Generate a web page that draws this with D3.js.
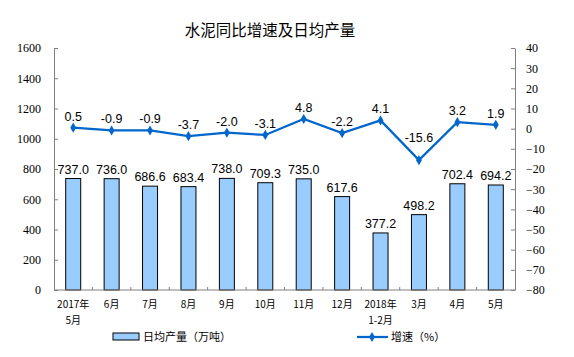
<!DOCTYPE html>
<html><head><meta charset="utf-8">
<script src="https://cdn.jsdelivr.net/npm/d3@7"></script>
<style>body{margin:0;background:#fff}svg{display:block}</style>
</head><body><svg id="c" width="574" height="357"></svg>
<script>
const categories = [["2017年","5月"],["6月"],["7月"],["8月"],["9月"],["10月"],["11月"],["12月"],["2018年","1-2月"],["3月"],["4月"],["5月"]];
const output = [737.0, 736.0, 686.6, 683.4, 738.0, 709.3, 735.0, 617.6, 377.2, 498.2, 702.4, 694.2];
const growth = [0.5, -0.9, -0.9, -3.7, -2.0, -3.1, 4.8, -2.2, 4.1, -15.6, 3.2, 1.9];
const leftTicks = [0,200,400,600,800,1000,1200,1400,1600];
const rightTicks = [40,30,20,10,0,-10,-20,-30,-40,-50,-60,-70,-80];
const title = "水泥同比增速及日均产量";
const legendBar = "日均产量（万吨）";
const legendLine = "增速（%）";

const svg = d3.select("#c");
const L = 54, R = 515, T = 48, B = 290;
const idx = d3.range(categories.length);
const x = d3.scaleBand().domain(idx).range([L, R]).paddingInner(0).paddingOuter(0);
const yL = d3.scaleLinear().domain([0,1600]).range([B, T]);
const yR = d3.scaleLinear().domain([-80,40]).range([B, T]);
const axisColor = "#808080";
const serif = "'Liberation Serif','Times New Roman',serif";
const sans = "'Liberation Sans',Arial,sans-serif";
const cjk = "'Noto Sans CJK SC',sans-serif";

svg.append("text").attr("x", 270).attr("y", 36).attr("text-anchor","middle")
  .attr("font-family", cjk).attr("font-size", 15.5).attr("fill","#000").text(title);

// left axis
const gl = svg.append("g").attr("transform",`translate(${L},0)`)
  .call(d3.axisLeft(yL).tickValues(leftTicks).tickFormat(d3.format("d")).tickSizeInner(-4).tickSizeOuter(0).tickPadding(13));
gl.selectAll("path,line").attr("stroke", axisColor);
gl.selectAll("text").attr("font-family", serif).attr("font-size", 12).attr("fill","#000");

// right axis
const gr = svg.append("g").attr("transform",`translate(${R},0)`)
  .call(d3.axisRight(yR).tickValues(rightTicks).tickFormat(d3.format("d")).tickSizeInner(-4).tickSizeOuter(0).tickPadding(11));
gr.selectAll("path,line").attr("stroke", axisColor);
gr.selectAll("text").attr("font-family", serif).attr("font-size", 12).attr("fill","#000");

// bars
svg.append("g").selectAll("rect").data(output).join("rect")
  .attr("x", (d,i)=> x(i) + x.bandwidth()/2 - 7.5)
  .attr("width", 15)
  .attr("y", d=> yL(d))
  .attr("height", d=> B - yL(d))
  .attr("fill","#99CCFF").attr("stroke","#000").attr("stroke-width",1);

svg.append("g").selectAll("text").data(output).join("text")
  .attr("x", (d,i)=> x(i) + x.bandwidth()/2)
  .attr("y", d=> yL(d) - 5)
  .attr("text-anchor","middle").attr("font-family", sans).attr("font-size", 12.5).attr("fill","#000")
  .text(d=> d.toFixed(1));

// x axis
const gx = svg.append("g").attr("transform",`translate(0,${B})`);
gx.append("line").attr("x1",L).attr("x2",R).attr("y1",0).attr("y2",0).attr("stroke",axisColor);
gx.selectAll("line.t").data(d3.range(1,categories.length)).join("line").attr("class","t")
  .attr("x1", i=> x(i)).attr("x2", i=> x(i)).attr("y1",0).attr("y2",-3).attr("stroke",axisColor);
categories.forEach((c,i)=>{
  c.forEach((s,j)=>{
    gx.append("text").attr("x", x(i)+x.bandwidth()/2).attr("y", 18 + j*16)
      .attr("text-anchor","middle").attr("font-family", cjk).attr("font-size", 10).attr("fill","#000").text(s);
  });
});

// line
const lineColor = "#0066CC";
const line = d3.line().x((d,i)=> x(i)+x.bandwidth()/2).y(d=> yR(d));
svg.append("path").datum(growth).attr("d", line).attr("fill","none").attr("stroke",lineColor).attr("stroke-width",2.25);
const diamond = d3.symbol().type(d3.symbolDiamond).size(30);
svg.append("g").selectAll("path").data(growth).join("path")
  .attr("transform",(d,i)=>`translate(${x(i)+x.bandwidth()/2},${yR(d)})`)
  .attr("d", diamond).attr("fill",lineColor);
const gMin = d3.min(growth);
svg.append("g").selectAll("text").data(growth).join("text")
  .attr("x", (d,i)=> x(i)+x.bandwidth()/2)
  .attr("y", d=> yR(d) - (d === gMin ? 18 : 7))
  .attr("text-anchor","middle").attr("font-family", sans).attr("font-size", 12.5).attr("fill","#000")
  .text(d=> d.toFixed(1));

// legend
const lg = svg.append("g");
lg.append("rect").attr("x",113).attr("y",333).attr("width",26).attr("height",7)
  .attr("fill","#99CCFF").attr("stroke","#000");
lg.append("text").attr("x",143).attr("y",341).attr("font-family",cjk).attr("font-size",11).attr("fill","#000").text(legendBar);
lg.append("line").attr("x1",357).attr("x2",388).attr("y1",337).attr("y2",337).attr("stroke",lineColor).attr("stroke-width",2.25);
lg.append("path").attr("transform","translate(372,337)").attr("d",diamond).attr("fill",lineColor);
lg.append("text").attr("x",391).attr("y",341).attr("font-family",cjk).attr("font-size",11).attr("fill","#000").text(legendLine);
</script></body></html>
